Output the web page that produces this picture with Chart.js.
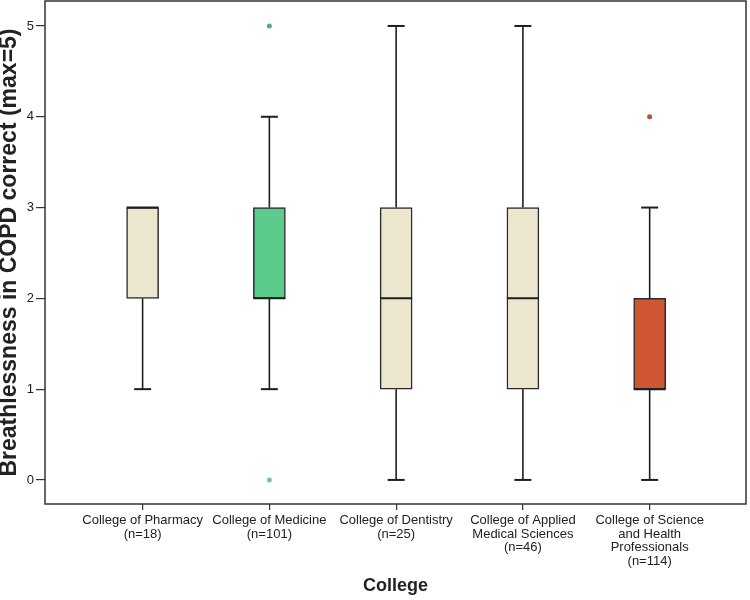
<!DOCTYPE html>
<html>
<head>
<meta charset="utf-8">
<script src="https://cdn.jsdelivr.net/npm/chart.js@4"></script>
<style>
  html, body { margin: 0; padding: 0; background: #fff; }
  #wrap { width: 750px; height: 600px; }
</style>
</head>
<body>
<div id="wrap"><canvas id="boxChart" width="750" height="600"></canvas></div>
<script>
// values
const categories = [
  ["College of Pharmacy", "(n=18)"],
  ["College of Medicine", "(n=101)"],
  ["College of Dentistry", "(n=25)"],
  ["College of Applied", "Medical Sciences", "(n=46)"],
  ["College of Science", "and Health", "Professionals", "(n=114)"]
];
const whiskerLow = [1, 1, 0, 0, 0];
const q1 = [2, 2, 1, 1, 1];
const median = [3, 2, 2, 2, 1];
const q3 = [3, 3, 3, 3, 2];
const whiskerHigh = [3, 4, 5, 5, 3];
const outlierGroup = [1, 1, 4];
const outlierValue = [5, 0, 4];
const boxColors = ["#ede6cf", "#5acb8b", "#cf5633"];
const boxColorIndex = [0, 1, 0, 0, 2];
const outlierColors = ["#5aa882", "#7cc1a0", "#b5523a"];
const yTicks = [0, 1, 2, 3, 4, 5];

const FONT = "'Liberation Sans', Arial, sans-serif";

const boxData = categories.map((c, i) => ({ x: i, y: [q1[i], q3[i]] }));
const outlierData = outlierGroup.map((g, i) => ({ x: g, y: outlierValue[i] }));

// whiskers, caps, medians and the frame drawn through the scales
const boxPlotExtras = {
  id: "boxPlotExtras",
  afterDatasetsDraw(chart) {
    const ctx = chart.ctx;
    const xs = chart.scales.x, ys = chart.scales.y;
    const bars = chart.getDatasetMeta(0).data;
    ctx.save();
    ctx.strokeStyle = "#1e1e1e";
    ctx.lineCap = "butt";
    categories.forEach((c, i) => {
      const px = xs.getPixelForValue(i);
      const half = bars[i].width / 2;
      const cap = 8.5;
      ctx.lineWidth = 1.6;
      if (whiskerLow[i] < q1[i]) {
        ctx.beginPath();
        ctx.moveTo(px, ys.getPixelForValue(q1[i]));
        ctx.lineTo(px, ys.getPixelForValue(whiskerLow[i]));
        ctx.stroke();
        ctx.lineWidth = 2;
        ctx.beginPath();
        ctx.moveTo(px - cap, ys.getPixelForValue(whiskerLow[i]));
        ctx.lineTo(px + cap, ys.getPixelForValue(whiskerLow[i]));
        ctx.stroke();
      }
      ctx.lineWidth = 1.6;
      if (whiskerHigh[i] > q3[i]) {
        ctx.beginPath();
        ctx.moveTo(px, ys.getPixelForValue(q3[i]));
        ctx.lineTo(px, ys.getPixelForValue(whiskerHigh[i]));
        ctx.stroke();
        ctx.lineWidth = 2;
        ctx.beginPath();
        ctx.moveTo(px - cap, ys.getPixelForValue(whiskerHigh[i]));
        ctx.lineTo(px + cap, ys.getPixelForValue(whiskerHigh[i]));
        ctx.stroke();
      }
      ctx.lineWidth = 2;
      ctx.beginPath();
      ctx.moveTo(px - half, ys.getPixelForValue(median[i]));
      ctx.lineTo(px + half, ys.getPixelForValue(median[i]));
      ctx.stroke();
    });
    const a = chart.chartArea;
    ctx.strokeStyle = "#333";
    ctx.lineWidth = 1.5;
    ctx.strokeRect(a.left, a.top, a.right - a.left, a.bottom - a.top);
    ctx.restore();
  }
};

new Chart(document.getElementById("boxChart"), {
  type: "bar",
  data: {
    datasets: [
      {
        type: "bar",
        data: boxData,
        backgroundColor: boxColorIndex.map(k => boxColors[k]),
        borderColor: "#2a2a2a",
        borderWidth: 1.5,
        borderSkipped: false,
        barThickness: 32,
        order: 2
      },
      {
        type: "scatter",
        data: outlierData,
        pointBackgroundColor: outlierColors,
        pointBorderWidth: 0,
        pointRadius: 2.5,
        order: 1
      }
    ]
  },
  plugins: [boxPlotExtras],
  options: {
    responsive: false,
    animation: false,
    layout: { autoPadding: false, padding: { top: 1, right: 4, left: 0, bottom: 0 } },
    plugins: { legend: { display: false }, tooltip: { enabled: false } },
    scales: {
      x: {
        type: "linear",
        offset: false,
        min: -0.77,
        max: 4.76,
        afterBuildTicks: axis => { axis.ticks = categories.map((c, i) => ({ value: i })); },
        afterFit: axis => { axis.height = 96; axis.paddingLeft = 0; axis.paddingRight = 0; },
        grid: { offset: false, drawOnChartArea: false, drawTicks: true, tickLength: 6, color: "#333", lineWidth: 1.2 },
        border: { display: false },
        ticks: {
          autoSkip: false,
          maxRotation: 0,
          padding: 4,
          color: "#222",
          font: { family: FONT, size: 13, lineHeight: "13.5px" },
          callback: v => categories[v]
        },
        title: {
          display: true,
          text: "College",
          color: "#222",
          font: { family: FONT, size: 18, weight: "bold", lineHeight: 1 },
          padding: { bottom: 5 }
        }
      },
      y: {
        min: -0.265,
        max: 5.275,
        afterBuildTicks: axis => { axis.ticks = yTicks.map(v => ({ value: v })); },
        afterFit: axis => { axis.width = 45; axis.paddingTop = 0; axis.paddingBottom = 0; },
        grid: { drawOnChartArea: false, drawTicks: true, tickLength: 9, color: "#333", lineWidth: 1.2 },
        border: { display: false },
        ticks: {
          padding: 2,
          color: "#222",
          font: { family: FONT, size: 13 }
        },
        title: {
          display: true,
          text: "Breathlessness in COPD correct (max=5)",
          color: "#222",
          font: { family: FONT, size: 23, weight: "bold", lineHeight: 1 },
          padding: { top: -2 }
        }
      }
    }
  }
});
</script>
</body>
</html>
